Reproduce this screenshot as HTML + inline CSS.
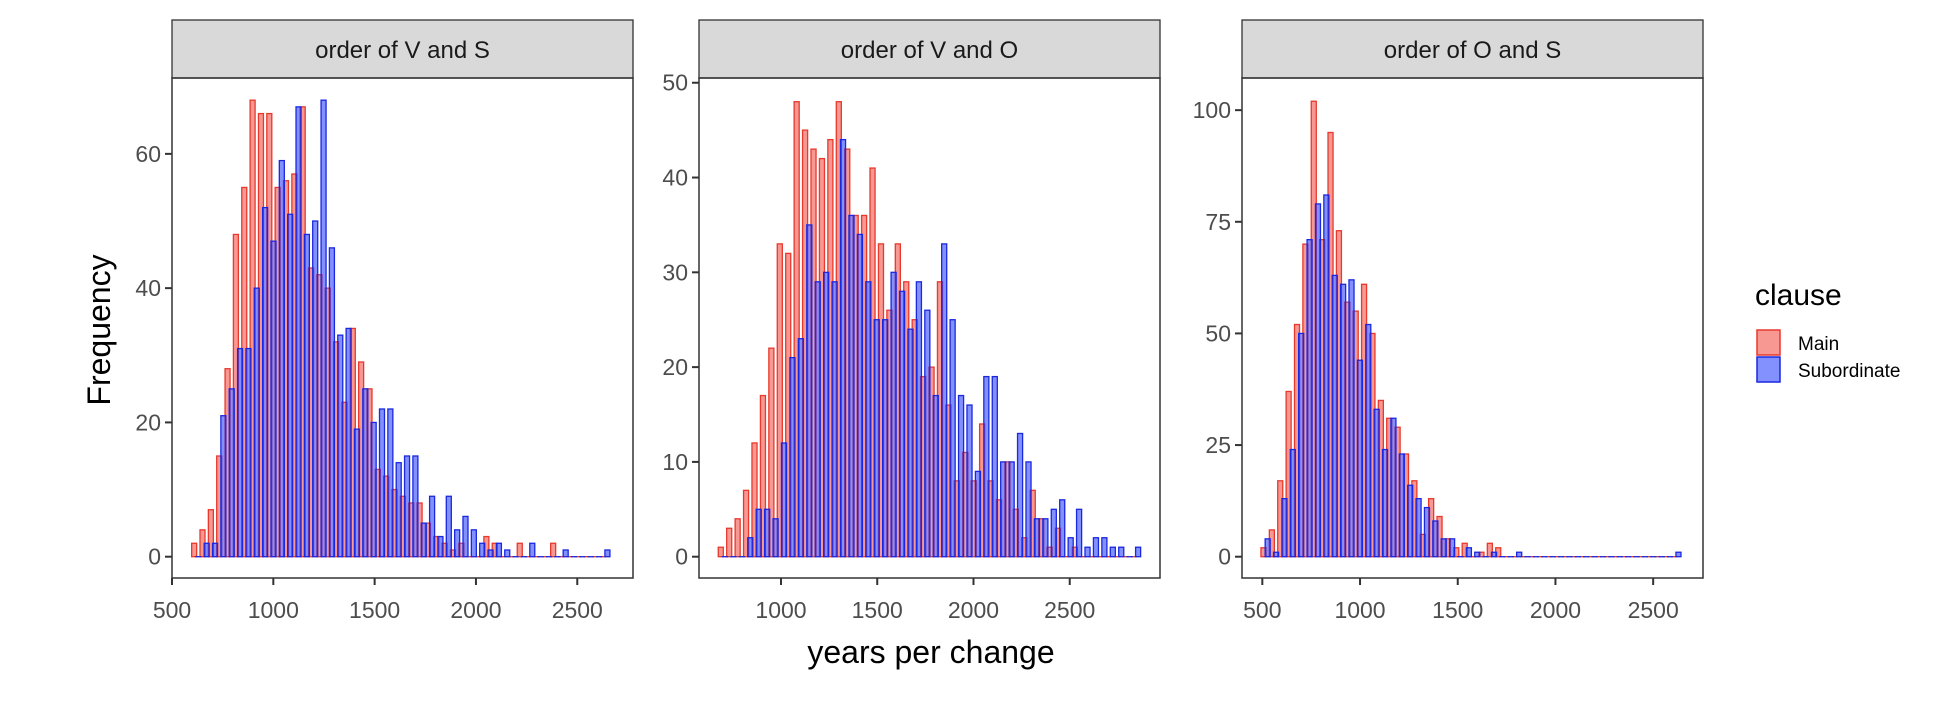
<!DOCTYPE html>
<html><head><meta charset="utf-8"><style>
body{margin:0;background:#fff;}
svg text{font-family:"Liberation Sans",Arial,sans-serif;}
</style></head><body>
<svg id="chart" width="1960" height="706" viewBox="0 0 1960 706" xmlns="http://www.w3.org/2000/svg">
<text x="110" y="330" font-size="32" fill="#000" text-anchor="middle" transform="rotate(-90 110 330)">Frequency</text>
<text x="931" y="663" font-size="32" fill="#000" text-anchor="middle">years per change</text>
<g>
<text x="1755" y="305" font-size="30" fill="#000">clause</text>
<rect x="1757" y="330" width="23" height="25" fill="rgba(240,50,40,0.5)" stroke="#e8392c" stroke-width="1.5"/>
<text x="1798" y="350" font-size="19" fill="#000">Main</text>
<rect x="1757" y="357" width="23" height="25" fill="rgba(30,55,255,0.55)" stroke="#1a28e0" stroke-width="1.5"/>
<text x="1798" y="377" font-size="19" fill="#000">Subordinate</text>
</g>
</svg>
<script>
const panelTitles = ["order of V and S","order of V and O","order of O and S"];
const mainVS = [2,4,7,15,28,48,55,68,66,66,55,56,57,67,43,42,40,32,23,34,29,25,13,12,10,9,8,8,5,3,2,1,2,0,0,3,2,0,0,2,0,0,0,2,0,0,0,0,0,0];
const subVS  = [0,2,2,21,25,31,31,40,52,47,59,51,67,48,50,68,46,33,34,19,25,20,22,22,14,15,15,5,9,3,9,4,6,4,2,1,2,1,0,0,2,0,0,0,1,0,0,0,0,1];
const mainVO = [1,3,4,7,12,17,22,33,32,48,45,43,42,44,48,43,36,36,41,33,26,33,29,25,19,20,29,16,8,11,8,14,8,6,10,5,2,7,4,1,3,0,1,0,0,0,0,0,0,0];
const subVO  = [0,0,0,2,5,5,4,12,21,23,35,29,30,29,44,36,34,29,25,25,30,28,24,29,26,17,33,25,17,16,9,19,19,10,10,13,10,4,4,5,6,2,5,1,2,2,1,1,0,1];
const mainOS = [2,6,17,37,52,70,102,71,95,73,57,55,61,50,35,31,29,23,17,5,13,9,4,2,3,0,1,3,2,0,0,0,0,0,0,0,0,0,0,0,0,0,0,0,0,0,0,0,0,0];
const subOS  = [4,1,13,24,50,71,79,81,63,61,62,44,52,33,24,31,23,16,13,11,8,4,4,0,2,1,0,1,0,0,1,0,0,0,0,0,0,0,0,0,0,0,0,0,0,0,0,0,0,1];
const binStart = [597,674,493];
const binWidth = [41.2,43.8,42.9];
const xTicks = [[500,1000,1500,2000,2500],[1000,1500,2000,2500],[500,1000,1500,2000,2500]];
const yTicks = [[0,20,40,60],[0,10,20,30,40,50],[0,25,50,75,100]];

const NS="http://www.w3.org/2000/svg";
const svg=document.getElementById('chart');
function mk(tag,attrs,parent){const e=document.createElementNS(NS,tag);for(const k in attrs)e.setAttribute(k,attrs[k]);(parent||svg).appendChild(e);return e;}
const panels=[
 {left:172,xmin:500,xmax:2775,ymax:71.3},
 {left:699,xmin:574,xmax:2969,ymax:50.5},
 {left:1242,xmin:396,xmax:2755,ymax:107.2}
];
const mainData=[mainVS,mainVO,mainOS], subData=[subVS,subVO,subOS];
const W=461, plotTop=78, plotBottom=578, y0=556.7, stripTop=20;
panels.forEach((p,i)=>{
  const g=mk('g',{});
  
  
  const xs=v=>p.left+(v-p.xmin)/(p.xmax-p.xmin)*W;
  const ys=v=>y0-v*(y0-plotTop)/p.ymax;
  const strip=mk('rect',{x:p.left,y:stripTop,width:W,height:plotTop-stripTop,fill:'#d9d9d9',stroke:'#333','stroke-width':1.3},g);
  
  
  const st=mk('text',{x:p.left+W/2,y:58,'font-size':24,fill:'#1a1a1a','text-anchor':'middle'},g);
  st.textContent=panelTitles[i];
  
  
  [[mainData[i],0,'rgba(240,50,40,0.5)','#e8392c','main'],[subData[i],0.5,'rgba(30,55,255,0.55)','#1a28e0','sub']].forEach(([arr,off,fill,stroke,nm])=>{
    arr.forEach((v,k)=>{
      const x0=binStart[i]+(k+off)*binWidth[i];
      const xa=xs(x0), xb=xs(x0+binWidth[i]*0.6);
      const r=mk('rect',{x:xa,y:ys(v),width:xb-xa,height:Math.max(ys(0)-ys(v),0.01),fill:fill,stroke:stroke,'stroke-width':1.3},g);
      
      
    });
  });
  const fr=mk('rect',{x:p.left,y:plotTop,width:W,height:plotBottom-plotTop,fill:'none',stroke:'#333','stroke-width':1.5},g);
  
  
  yTicks[i].forEach(t=>{
    mk('line',{x1:p.left-7,x2:p.left,y1:ys(t),y2:ys(t),stroke:'#333','stroke-width':2},g);
    const tx=mk('text',{x:p.left-11,y:ys(t)+8,'font-size':23,fill:'#4d4d4d','text-anchor':'end'},g);
    tx.textContent=t;
    
    
  });
  xTicks[i].forEach(t=>{
    mk('line',{x1:xs(t),x2:xs(t),y1:plotBottom,y2:plotBottom+7,stroke:'#333','stroke-width':2},g);
    const tx=mk('text',{x:xs(t),y:618,'font-size':23,fill:'#4d4d4d','text-anchor':'middle'},g);
    tx.textContent=t;
    
    
  });
});
</script>
</body></html>
